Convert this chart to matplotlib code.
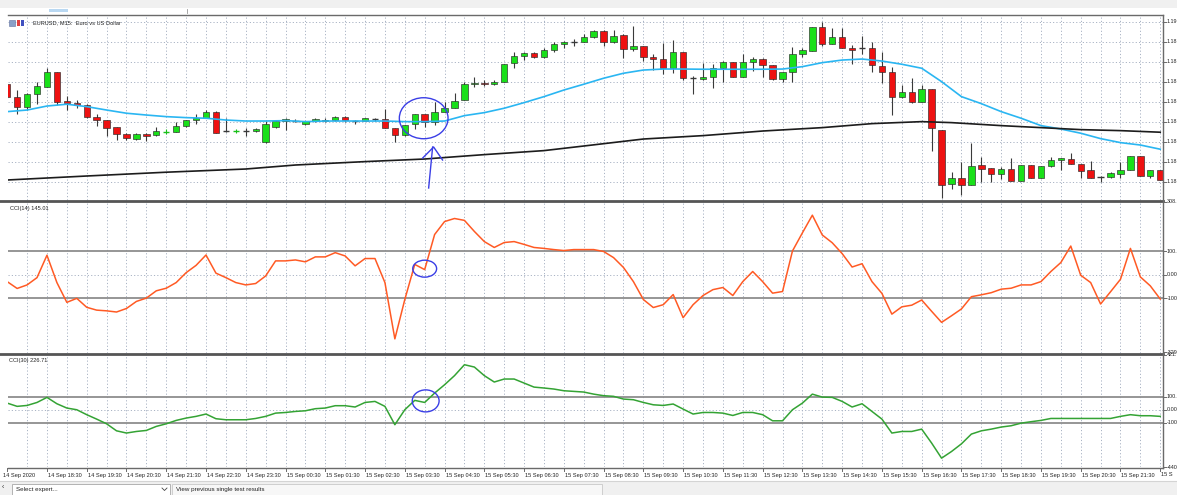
import matplotlib
matplotlib.use("Agg")
import matplotlib.pyplot as plt
import matplotlib.transforms as mtrans
from matplotlib.patches import Rectangle, Ellipse

plt.rcParams['font.family'] = ['Liberation Sans', 'DejaVu Sans']

# ---------------- data (EURUSD M15, 14 Sep 17:30 -> 15 Sep 22:30) ----------------
opens = [1.18687, 1.18623, 1.18573, 1.18637, 1.18675, 1.18747, 1.18603, 1.18593, 1.18583, 1.18525,
         1.18507, 1.18473, 1.18440, 1.18413, 1.18440, 1.18433, 1.18450, 1.18450, 1.18477, 1.18507,
         1.18520, 1.18550, 1.18455, 1.18453, 1.18455, 1.18452, 1.18397, 1.18472, 1.18503, 1.18503,
         1.18487, 1.18503, 1.18503, 1.18507, 1.18523, 1.18503, 1.18503, 1.18512, 1.18513, 1.18467,
         1.18433, 1.18487, 1.18537, 1.18497, 1.18550, 1.18570, 1.18608, 1.18688, 1.18695, 1.18690,
         1.18697, 1.18792, 1.18830, 1.18842, 1.18825, 1.18858, 1.18888, 1.18897, 1.18900, 1.18923,
         1.18953, 1.18900, 1.18933, 1.18863, 1.18878, 1.18823, 1.18815, 1.18767, 1.18848, 1.18717,
         1.18713, 1.18722, 1.18767, 1.18797, 1.18722, 1.18797, 1.18815, 1.18783, 1.18713, 1.18750,
         1.18840, 1.18855, 1.18972, 1.18890, 1.18925, 1.18870, 1.18867, 1.18867, 1.18778, 1.18750,
         1.18623, 1.18647, 1.18600, 1.18663, 1.18458, 1.18188, 1.18217, 1.18183, 1.18283, 1.18267,
         1.18237, 1.18263, 1.18203, 1.18282, 1.18217, 1.18280, 1.18308, 1.18313, 1.18287, 1.18257,
         1.18225, 1.18225, 1.18240, 1.18257, 1.18330, 1.18227, 1.18257]
highs = [1.18690, 1.18658, 1.18645, 1.18700, 1.18767, 1.18750, 1.18630, 1.18608, 1.18587, 1.18540,
         1.18510, 1.18475, 1.18442, 1.18442, 1.18443, 1.18472, 1.18463, 1.18500, 1.18507, 1.18537,
         1.18557, 1.18553, 1.18517, 1.18462, 1.18467, 1.18467, 1.18503, 1.18503, 1.18520, 1.18513,
         1.18503, 1.18517, 1.18517, 1.18530, 1.18527, 1.18507, 1.18517, 1.18520, 1.18562, 1.18467,
         1.18483, 1.18540, 1.18540, 1.18597, 1.18597, 1.18642, 1.18700, 1.18725, 1.18708, 1.18708,
         1.18790, 1.18850, 1.18850, 1.18847, 1.18867, 1.18900, 1.18903, 1.18912, 1.18937, 1.18958,
         1.18958, 1.18958, 1.18937, 1.18980, 1.18878, 1.18837, 1.18892, 1.18908, 1.18848, 1.18730,
         1.18792, 1.18787, 1.18805, 1.18797, 1.18837, 1.18825, 1.18820, 1.18783, 1.18750, 1.18875,
         1.18867, 1.18972, 1.18997, 1.18970, 1.18970, 1.18883, 1.18930, 1.18897, 1.18847, 1.18775,
         1.18683, 1.18720, 1.18683, 1.18663, 1.18458, 1.18250, 1.18300, 1.18392, 1.18325, 1.18267,
         1.18275, 1.18317, 1.18283, 1.18282, 1.18278, 1.18325, 1.18317, 1.18342, 1.18287, 1.18303,
         1.18230, 1.18250, 1.18300, 1.18328, 1.18330, 1.18258, 1.18257]
lows = [1.18620, 1.18538, 1.18558, 1.18587, 1.18675, 1.18583, 1.18558, 1.18570, 1.18520, 1.18478,
        1.18428, 1.18408, 1.18407, 1.18410, 1.18403, 1.18430, 1.18437, 1.18447, 1.18473, 1.18490,
        1.18517, 1.18445, 1.18450, 1.18442, 1.18430, 1.18447, 1.18395, 1.18470, 1.18458, 1.18497,
        1.18483, 1.18500, 1.18497, 1.18503, 1.18500, 1.18487, 1.18501, 1.18503, 1.18467, 1.18397,
        1.18430, 1.18463, 1.18475, 1.18483, 1.18550, 1.18570, 1.18608, 1.18675, 1.18678, 1.18683,
        1.18697, 1.18767, 1.18808, 1.18817, 1.18820, 1.18847, 1.18867, 1.18880, 1.18900, 1.18917,
        1.18880, 1.18892, 1.18820, 1.18855, 1.18805, 1.18758, 1.18737, 1.18742, 1.18708, 1.18637,
        1.18708, 1.18670, 1.18700, 1.18722, 1.18722, 1.18753, 1.18725, 1.18708, 1.18700, 1.18697,
        1.18823, 1.18855, 1.18877, 1.18887, 1.18867, 1.18787, 1.18837, 1.18750, 1.18692, 1.18533,
        1.18617, 1.18592, 1.18600, 1.18353, 1.18120, 1.18163, 1.18133, 1.18183, 1.18200, 1.18200,
        1.18213, 1.18203, 1.18203, 1.18220, 1.18217, 1.18275, 1.18258, 1.18287, 1.18220, 1.18220,
        1.18200, 1.18217, 1.18220, 1.18257, 1.18230, 1.18217, 1.18208]
closes = [1.18625, 1.18573, 1.18638, 1.18678, 1.18747, 1.18597, 1.18592, 1.18583, 1.18523, 1.18507,
          1.18470, 1.18437, 1.18417, 1.18438, 1.18430, 1.18452, 1.18450, 1.18478, 1.18507, 1.18520,
          1.18550, 1.18445, 1.18455, 1.18453, 1.18455, 1.18462, 1.18488, 1.18503, 1.18512, 1.18503,
          1.18503, 1.18512, 1.18510, 1.18523, 1.18507, 1.18503, 1.18517, 1.18512, 1.18467, 1.18433,
          1.18483, 1.18537, 1.18500, 1.18550, 1.18567, 1.18603, 1.18687, 1.18695, 1.18688, 1.18697,
          1.18790, 1.18830, 1.18842, 1.18825, 1.18858, 1.18887, 1.18897, 1.18897, 1.18922, 1.18953,
          1.18900, 1.18930, 1.18863, 1.18878, 1.18823, 1.18815, 1.18767, 1.18847, 1.18717, 1.18717,
          1.18723, 1.18767, 1.18797, 1.18722, 1.18797, 1.18813, 1.18783, 1.18713, 1.18750, 1.18838,
          1.18857, 1.18972, 1.18890, 1.18922, 1.18870, 1.18858, 1.18867, 1.18783, 1.18750, 1.18623,
          1.18647, 1.18600, 1.18663, 1.18467, 1.18183, 1.18217, 1.18183, 1.18280, 1.18263, 1.18237,
          1.18263, 1.18203, 1.18283, 1.18220, 1.18278, 1.18310, 1.18317, 1.18287, 1.18255, 1.18220,
          1.18225, 1.18243, 1.18257, 1.18328, 1.18230, 1.18258, 1.18208]
green_cross_bars = [16, 23]

ma_fast_idx = [0, 2, 4, 6, 8, 10, 12, 14, 16, 18, 20, 22, 24, 26, 28, 30, 32, 34, 36, 38, 40, 42, 44,
               46, 48, 50, 52, 54, 56, 58, 60, 62, 64, 66, 68, 70, 72, 74, 76, 78, 80, 82, 84, 86,
               88, 90, 92, 94, 96, 98, 100, 102, 104, 106, 108, 110, 112, 114, 116]
ma_fast = [1.18550, 1.18558, 1.18578, 1.18587, 1.18575, 1.18558, 1.18542, 1.18533, 1.18525, 1.18520,
           1.18517, 1.18508, 1.18503, 1.18503, 1.18505, 1.18500, 1.18503, 1.18503, 1.18503, 1.18503,
           1.18500, 1.18500, 1.18503, 1.18530, 1.18545, 1.18567, 1.18595, 1.18625, 1.18658, 1.18687,
           1.18717, 1.18742, 1.18758, 1.18763, 1.18763, 1.18762, 1.18762, 1.18762, 1.18762, 1.18763,
           1.18775, 1.18795, 1.18808, 1.18813, 1.18803, 1.18787, 1.18767, 1.18700, 1.18625, 1.18590,
           1.18550, 1.18517, 1.18480, 1.18463, 1.18442, 1.18415, 1.18395, 1.18383, 1.18362]
ma_slow_idx = [0, 8, 16, 24, 29, 36, 42, 48, 54, 58, 64, 70, 76, 82, 87, 92, 95, 100, 104, 108, 112, 116]
ma_slow = [1.18208, 1.18228, 1.18247, 1.18263, 1.18283, 1.18300, 1.18313, 1.18335, 1.18355, 1.18378,
           1.18413, 1.18430, 1.18453, 1.18470, 1.18490, 1.18500, 1.18495, 1.18480, 1.18470, 1.18460,
           1.18455, 1.18447]

cci14 = [-30, -59, -44, -13, 82, -34, -118, -101, -139, -151, -154, -159, -144, -114, -100, -69, -58,
         -34, 8, 39, 83, 6, -13, -34, -44, -38, -6, 58, 58, 62, 54, 75, 75, 93, 79, 37, 68, 68, -34,
         -273, -106, 43, 21, 170, 225, 238, 230, 183, 140, 115, 136, 140, 128, 115, 111, 106, 102,
         106, 106, 106, 98, 72, 30, -30, -106, -140, -128, -85, -183, -128, -89, -64, -55, -89, -30,
         13, -30, -79, -72, 100, 177, 252, 168, 135, 89, 32, 46, -30, -80, -168, -137, -130, -108,
         -156, -203, -175, -146, -94, -86, -77, -62, -58, -44, -44, -30, 13, 51, 121, -3, -34, -125,
         -73, -20, 111, -10, -48, -104]
cci30 = [51, 26, 33, 56, 95, 46, 13, 0, -38, -72, -108, -162, -179, -167, -159, -128, -108, -82, -64,
         -51, -33, -69, -77, -77, -77, -67, -51, -26, -21, -13, -8, 8, 13, 31, 31, 21, 56, 64, 26, -115,
         0, 72, 56, 128, 192, 262, 346, 328, 262, 213, 236, 236, 205, 174, 167, 159, 146, 141, 136, 120,
         108, 103, 82, 77, 56, 38, 33, 44, 5, -33, -21, -21, -26, -44, -21, -21, -38, -85, -85, 0, 51,
         120, 97, 95, 64, 21, 46, -13, -72, -179, -167, -167, -149, -256, -372, -321, -262, -187, -162,
         -149, -133, -123, -103, -92, -82, -67, -67, -67, -67, -67, -67, -67, -51, -38, -46, -46, -51]

# right-axis scale labels (only the part visible before the window edge)
price_levels = [1.19000, 1.18900, 1.18800, 1.18700, 1.18600, 1.18500, 1.18400, 1.18300, 1.18200]
price_labels = ["1.19", "1.18", "1.18", "1.18", "1.18", "1.18", "1.18", "1.18", "1.18"]
cci14_axis = [308.67, 100, 0, -100, -329.34]
cci14_axis_labels = ["308.", "100.", "0.00", "-100", "-329"]
cci30_axis = [421.06, 100, 0, -100, -440.12]
cci30_axis_labels = ["421.", "100.", "0.00", "-100", "-440"]
time_labels = ["14 Sep 2020", "14 Sep 18:30", "14 Sep 19:30", "14 Sep 20:30", "14 Sep 21:30",
               "14 Sep 22:30", "14 Sep 23:30", "15 Sep 00:30", "15 Sep 01:30", "15 Sep 02:30",
               "15 Sep 03:30", "15 Sep 04:30", "15 Sep 05:30", "15 Sep 06:30", "15 Sep 07:30",
               "15 Sep 08:30", "15 Sep 09:30", "15 Sep 10:30", "15 Sep 11:30", "15 Sep 12:30",
               "15 Sep 13:30", "15 Sep 14:30", "15 Sep 15:30", "15 Sep 16:30", "15 Sep 17:30",
               "15 Sep 18:30", "15 Sep 19:30", "15 Sep 20:30", "15 Sep 21:30", "15 S"]
time_label_idx = list(range(0, 117, 4))

# ---------------- layout ----------------
W, H = 1177, 495
fig = plt.figure(figsize=(W / 100, H / 100), dpi=100)
fig.patch.set_facecolor('white')

X0, X1 = 8, 1163          # plot area in pixels
STEP, OFF = 9.94, 7.2     # pixel spacing of bars, pixel x of bar 0
xl = ((X0 - OFF) / STEP, (X1 - OFF) / STEP)


def ax_px(x0, y0, x1, y1):
    a = fig.add_axes([x0 / W, 1 - y1 / H, (x1 - x0) / W, (y1 - y0) / H])
    a.set_axis_off()
    a.set_xlim(*xl)
    return a


FS = 4.1
GRID_C = '#a9b3c4'
DOT = (0, (1.2, 2.2))
LEVEL_C = '#8e8e8e'
SEP_C = '#555555'
n = len(opens)

ax1 = ax_px(X0, 15, X1, 200)
ax1.set_ylim(1.18108, 1.190333)
ax2 = ax_px(X0, 200, X1, 353)
ax2.set_ylim(-333, 316.5)
ax3 = ax_px(X0, 353, X1, 467)
ax3.set_ylim(-440, 436)

for a in (ax1, ax2, ax3):
    for i in range(2, n, 2):
        a.axvline(i, color=GRID_C, lw=0.7, ls=DOT, zorder=0)
for p in price_levels:
    ax1.axhline(p, color=GRID_C, lw=0.7, ls=DOT, zorder=0)

# candles
GREEN, RED, EDGE = '#19e019', '#ee1111', '#2a2a2a'
BW = 0.64
for i in range(n):
    o, h, l, c = opens[i], highs[i], lows[i], closes[i]
    wick_c = '#19c019' if i in green_cross_bars else '#3a3a3a'
    ax1.vlines(i, l, h, color=wick_c, lw=0.8, zorder=2)
    if c > o:
        ax1.add_patch(Rectangle((i - BW / 2, o), BW, c - o, facecolor=GREEN, edgecolor=EDGE, lw=0.45, zorder=3))
    elif c < o:
        ax1.add_patch(Rectangle((i - BW / 2, c), BW, o - c, facecolor=RED, edgecolor=EDGE, lw=0.45, zorder=3))
    else:
        ax1.hlines(o, i - BW / 2, i + BW / 2, color=wick_c, lw=1.0, zorder=3)

ax1.plot(ma_fast_idx, ma_fast, color='#2ab6f2', lw=1.2, zorder=4)
ax1.plot(ma_slow_idx, ma_slow, color='#1c1c1c', lw=1.2, zorder=4)

# CCI panels
for a in (ax2, ax3):
    a.axhline(100, color=LEVEL_C, lw=1.3, zorder=1)
    a.axhline(-100, color=LEVEL_C, lw=1.3, zorder=1)
    a.axhline(0, color=GRID_C, lw=0.7, ls=DOT, zorder=1)
ax2.plot(range(n), cci14, color='#ff5a24', lw=1.1, zorder=3)
ax3.plot(range(n), cci30, color='#34a334', lw=1.1, zorder=3)

# hand drawn annotations (blue)
ANN = '#3a3ee6'
ax1.add_patch(Ellipse((41.9, 1.18517), 4.9, 0.00205, angle=0, fill=False, edgecolor=ANN, lw=1.0, zorder=6))
ax1.plot([42.4, 42.8], [1.18168, 1.18373], color=ANN, lw=1.0, zorder=6)
ax1.plot([41.8, 42.9, 43.8], [1.18318, 1.18373, 1.18308], color=ANN, lw=1.0, zorder=6)
ax2.add_patch(Ellipse((42.0, 25), 2.4, 72, angle=0, fill=False, edgecolor=ANN, lw=1.0, zorder=6))
ax3.add_patch(Ellipse((42.1, 68), 2.7, 169, angle=0, fill=False, edgecolor=ANN, lw=1.0, zorder=6))

# frame lines
fig.add_artist(plt.Line2D([X0 / W, X1 / W], [1 - 15 / H] * 2, color='#6a6a6a', lw=1.0))
fig.add_artist(plt.Line2D([0, X1 / W], [1 - 200.5 / H] * 2, color=SEP_C, lw=2.0))
fig.add_artist(plt.Line2D([0, X1 / W], [1 - 353.5 / H] * 2, color=SEP_C, lw=2.0))
fig.add_artist(plt.Line2D([X0 / W, X1 / W], [1 - 467.5 / H] * 2, color='#6a6a6a', lw=1.0))
fig.add_artist(plt.Line2D([X1 / W] * 2, [1 - 15 / H, 1 - 467.5 / H], color='#6a6a6a', lw=1.0))

# right axis labels
for a, vals, labs in ((ax1, price_levels, price_labels), (ax2, cci14_axis, cci14_axis_labels),
                      (ax3, cci30_axis, cci30_axis_labels)):
    tr = mtrans.blended_transform_factory(fig.transFigure, a.transData)
    for v, s in zip(vals, labs):
        fig.add_artist(plt.Line2D([X1 / W, (X1 + 3) / W], [v, v], transform=tr, color='#6a6a6a', lw=0.7))
        fig.text((X1 + 3.5) / W, v, s, transform=tr, fontsize=3.9, va='center', ha='left', color='#222222')

# time axis
trx = mtrans.blended_transform_factory(ax3.transData, fig.transFigure)
for k, (i, s) in enumerate(zip(time_label_idx, time_labels)):
    fig.add_artist(plt.Line2D([i, i], [1 - 467.5 / H, 1 - 471 / H], transform=trx, color='#6a6a6a', lw=0.7))
    dx = -0.45 if k == 0 else 0.1
    fig.text(i + dx, 1 - 475 / H, s, transform=trx, fontsize=FS, va='center', ha='left', color='#222222')

# titles
fig.text(33 / W, 1 - 22.5 / H, "EURUSD, M15:  Euro vs US Dollar", fontsize=FS, va='center', ha='left', color='#222222')
fig.add_artist(Rectangle((9 / W, 1 - 26 / H), 6 / W, 6 / H, facecolor='#8aa0c8', edgecolor='#6070a0', lw=0.4))
fig.add_artist(Rectangle((17 / W, 1 - 26 / H), 3 / W, 6 / H, facecolor='#e04040', edgecolor='none'))
fig.add_artist(Rectangle((21 / W, 1 - 26 / H), 3 / W, 6 / H, facecolor='#4050c0', edgecolor='none'))
fig.text(10 / W, 1 - 208.5 / H, "CCI(14) 145.01", fontsize=FS, va='center', ha='left', color='#222222')
fig.text(9 / W, 1 - 360.5 / H, "CCI(30) 226.71", fontsize=FS, va='center', ha='left', color='#222222')

# toolbar strips (top and bottom)
fig.add_artist(Rectangle((0, 1 - 8 / H), 1, 8 / H, facecolor='#f0f0f0', edgecolor='none'))
fig.add_artist(Rectangle((49 / W, 1 - 12 / H), 19 / W, 3 / H, facecolor='#b9d8f2', edgecolor='none'))
fig.add_artist(plt.Line2D([187 / W] * 2, [1 - 9 / H, 1 - 13 / H], color='#999999', lw=0.6))
fig.add_artist(Rectangle((0, 0), 1, 14 / H, facecolor='#f0f0f0', edgecolor='none'))
fig.add_artist(plt.Line2D([0, 1], [14 / H] * 2, color='#d4d4d4', lw=0.8))
fig.add_artist(Rectangle((12 / W, 0), 158 / W, 11 / H, facecolor='white', edgecolor='#a8a8a8', lw=0.6))
fig.add_artist(Rectangle((172 / W, 0), 430 / W, 11 / H, facecolor='#f7f7f7', edgecolor='#c8c8c8', lw=0.6))
fig.text(16 / W, 5 / H, "Select expert...", fontsize=FS + 0.4, va='center', ha='left', color='#222222')
fig.add_artist(plt.Line2D([162 / W, 164.5 / W, 167 / W], [7 / H, 4.5 / H, 7 / H], color='#444444', lw=0.6))
fig.text(176 / W, 5 / H, "View previous single test results", fontsize=FS + 0.4, va='center', ha='left', color='#222222')
fig.text(2 / W, 7 / H, "\u2039", fontsize=FS + 1, va='center', ha='left', color='#333333')

fig.savefig('out.png', dpi=100)
